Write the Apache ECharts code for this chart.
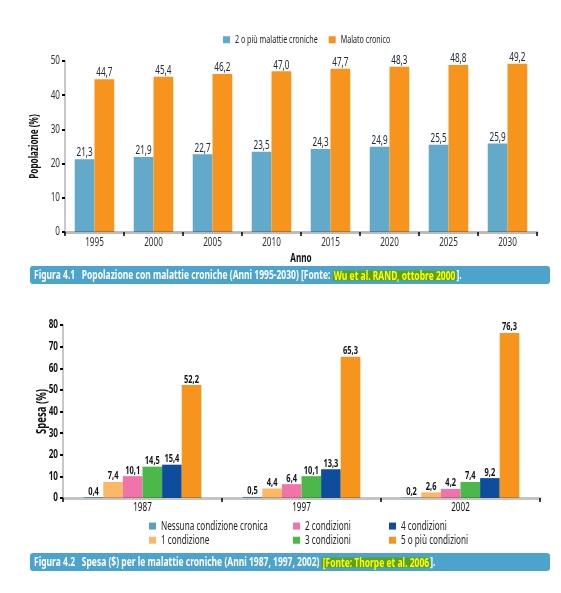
<!DOCTYPE html>
<html><head><meta charset="utf-8">
<script src="https://cdn.jsdelivr.net/npm/echarts@6/dist/echarts.min.js"></script>
<style>html,body{margin:0;padding:0;background:#fff}#c{width:561px;height:593px}</style>
</head><body><div id="c"></div>
<script>
// Figure 4.1
const years = ['1995','2000','2005','2010','2015','2020','2025','2030'];
const dueOPiu = [21.3,21.9,22.7,23.5,24.3,24.9,25.5,25.9];
const malatoCronico = [44.7,45.4,46.2,47.0,47.7,48.3,48.8,49.2];
const names1 = ['2 o più malattie croniche','Malato cronico'];
// Figure 4.2
const anni2 = ['1987','1997','2002'];
const nessuna = [0.4,0.5,0.2];
const una = [7.4,4.4,2.6];
const due = [10.1,6.4,4.2];
const tre = [14.5,10.1,7.4];
const quattro = [15.4,13.3,9.2];
const cinque = [52.2,65.3,76.3];
const names2 = ['Nessuna condizione cronica','1 condizione','2 condizioni','3 condizioni','4 condizioni','5 o più condizioni'];

// condensed text look: horizontal text scaling (drawing + measurement)
(function(){
  const SX = 0.68;
  const P = CanvasRenderingContext2D.prototype;
  const oFill = P.fillText, oStroke = P.strokeText, oMeasure = P.measureText;
  P.fillText = function(t, x, y, mw){
    this.save(); this.translate(x, y); this.scale(SX, 1);
    if (mw !== undefined) oFill.call(this, t, 0, 0, mw / SX); else oFill.call(this, t, 0, 0);
    this.restore();
  };
  P.strokeText = function(t, x, y, mw){
    this.save(); this.translate(x, y); this.scale(SX, 1);
    if (mw !== undefined) oStroke.call(this, t, 0, 0, mw / SX); else oStroke.call(this, t, 0, 0);
    this.restore();
  };
  P.measureText = function(t){
    const m = oMeasure.call(this, t);
    return {
      width: m.width * SX,
      actualBoundingBoxAscent: m.actualBoundingBoxAscent,
      actualBoundingBoxDescent: m.actualBoundingBoxDescent,
      actualBoundingBoxLeft: m.actualBoundingBoxLeft * SX,
      actualBoundingBoxRight: m.actualBoundingBoxRight * SX,
      fontBoundingBoxAscent: m.fontBoundingBoxAscent,
      fontBoundingBoxDescent: m.fontBoundingBoxDescent
    };
  };
})();

const FONT = '"Noto Sans",sans-serif';
const fmt = v => v.toFixed(1).replace('.', ',');
const cols1 = ['#63a9c9','#f7941d'];
const cols2 = ['#5c9fbf','#fbb866','#ef74a9','#4cb849','#0e4c9e','#f7941d'];

const axisLineGrey = {show:true, lineStyle:{color:'rgba(60,60,60,0.35)', width:3}};
const tickBlack = {show:true, length:4, lineStyle:{color:'#000', width:1.5}};

const chart = echarts.init(document.getElementById('c'), null, {renderer:'canvas'});

const s1 = [dueOPiu, malatoCronico].map((d,i)=>({
  type:'bar', name:names1[i], xAxisIndex:0, yAxisIndex:0, data:d,
  itemStyle:{color:cols1[i]}, barGap:'0%', barCategoryGap:'33%',
  label:{show:true, position:'top', distance:2, formatter:p=>fmt(p.value),
    fontFamily:FONT, fontSize:12, color:'#222a3a'}
}));
const d2 = [nessuna, una, due, tre, quattro, cinque];
const s2 = d2.map((d,i)=>({
  type:'bar', name:names2[i], xAxisIndex:1, yAxisIndex:1, data:d,
  itemStyle:{color:cols2[i]}, barGap:'0%', barCategoryGap:'26%',
  label:{show:true, position:'top', distance:2, formatter:p=>fmt(p.value),
    fontFamily:FONT, fontSize:11, fontWeight:'bold', color:'#111'}
}));

const legTxt1 = {fontFamily:FONT, fontSize:10.5, color:'#222'};
const legTxt2 = {fontFamily:FONT, fontSize:12, color:'#222'};
const capRich = {
  w:{fontFamily:FONT, fontSize:12.5, fontWeight:'bold', fill:'#fff', lineHeight:15},
  h:{fontFamily:FONT, fontSize:12.5, fontWeight:'bold', fill:'#ffff00', backgroundColor:'#5aa21e', lineHeight:15, padding:[1,1,0,1]}
};

chart.setOption({
  animation:false,
  textStyle:{fontFamily:FONT},
  grid:[
    {left:65, right:24, top:61, height:171},
    {left:63, right:21, top:325, height:173}
  ],
  legend:[
    {data:names1, left:218, top:31, itemWidth:7, itemHeight:7, itemGap:11, itemTextGap:4, icon:'rect', textStyle:legTxt1},
    {data:[names2[0],names2[1]], orient:'vertical', left:144, top:517, itemWidth:7, itemHeight:7, itemGap:6, itemTextGap:6, icon:'rect', textStyle:legTxt2},
    {data:[names2[2],names2[3]], orient:'vertical', left:288, top:517, itemWidth:7, itemHeight:7, itemGap:6, itemTextGap:6, icon:'rect', textStyle:legTxt2},
    {data:[names2[4],names2[5]], orient:'vertical', left:384, top:517, itemWidth:7, itemHeight:7, itemGap:6, itemTextGap:6, icon:'rect', textStyle:legTxt2}
  ],
  xAxis:[
    {type:'category', gridIndex:0, data:years, z:5, axisLine:axisLineGrey, axisTick:tickBlack,
     axisLabel:{fontFamily:FONT, fontSize:12, color:'#333', margin:6},
     name:'Anno', nameLocation:'middle', nameGap:22, nameMoveOverlap:false,
     nameTextStyle:{fontFamily:FONT, fontSize:12, fontWeight:'bold', color:'#111'}},
    {type:'category', gridIndex:1, data:anni2, z:5, axisLine:{show:true, lineStyle:{color:'rgba(60,60,60,0.3)', width:3}}, axisTick:tickBlack,
     axisLabel:{fontFamily:FONT, fontSize:12, color:'#111', margin:5}}
  ],
  yAxis:[
    {type:'value', gridIndex:0, min:0, max:50, interval:10, splitLine:{show:false},
     axisLine:{show:true, lineStyle:{color:'#c8c8c8', width:2}}, axisTick:{show:true, length:3, lineStyle:{color:'#000', width:2}},
     axisLabel:{fontFamily:FONT, fontSize:12, color:'#333', margin:5},
     name:'Popolazione (%)', nameLocation:'middle', nameGap:26, nameRotate:90, nameMoveOverlap:false,
     nameTextStyle:{fontFamily:FONT, fontSize:12, fontWeight:'bold', color:'#111'}},
    {type:'value', gridIndex:1, min:0, max:80, interval:10, splitLine:{show:false},
     axisLine:{show:true, lineStyle:{color:'#c8c8c8', width:2}}, axisTick:{show:true, length:3, lineStyle:{color:'#000', width:2}},
     axisLabel:{fontFamily:FONT, fontSize:12, fontWeight:'bold', color:'#111', margin:5},
     name:'Spesa (%)', nameLocation:'middle', nameGap:16, nameRotate:90, nameMoveOverlap:false,
     nameTextStyle:{fontFamily:FONT, fontSize:14, fontWeight:'bold', color:'#111'}}
  ],
  series:[...s1, ...s2],
  graphic:[
    {type:'rect', shape:{x:30, y:266, width:520, height:18, r:3}, style:{fill:'#4ca4cc'}},
    {type:'text', x:34, y:275.5, style:{
      text:'{w|Figura 4.1   Popolazione con malattie croniche (Anni 1995-2030) [Fonte: }{h|Wu et al. RAND, ottobre 2000}{w|].}',
      verticalAlign:'middle', rich:capRich}},
    {type:'rect', shape:{x:30, y:553, width:520, height:18, r:3}, style:{fill:'#4ca4cc'}},
    {type:'text', x:34, y:562.5, style:{
      text:'{w|Figura 4.2   Spesa ($) per le malattie croniche (Anni 1987, 1997, 2002) }{h|[Fonte: Thorpe et al. 2006}{w|].}',
      verticalAlign:'middle', rich:capRich}}
  ]
});
</script></body></html>
